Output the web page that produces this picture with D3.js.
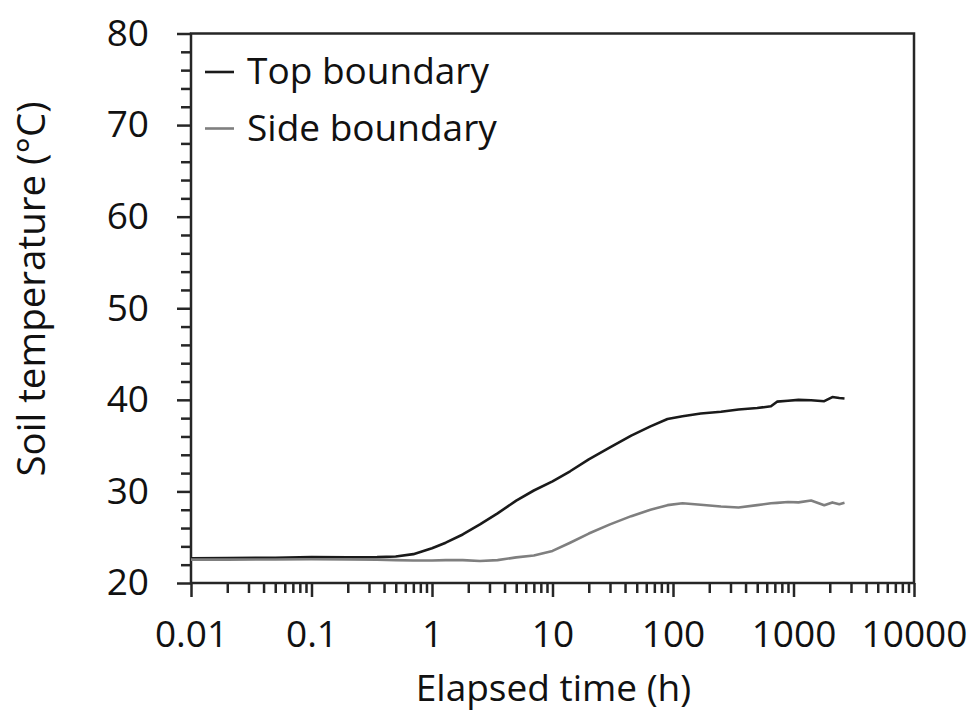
<!doctype html>
<html lang="en">
<head>
<meta charset="UTF-8">
<title>Soil temperature</title>
<style>
  body { margin: 0; background: #fff; }
  svg text { font-family: "Open Sans", sans-serif; fill: #111; }
</style>
</head>
<body>
<svg width="973" height="719"></svg>
<script src="https://cdn.jsdelivr.net/npm/d3@7"></script>
<script>
// elapsed time (h) and the two temperature records (°C)
var timeH = [0.01, 0.02, 0.05, 0.1, 0.2, 0.35, 0.5, 0.7, 1, 1.3, 1.8, 2.5, 3.5, 5, 7, 10, 14, 20, 30, 45, 65, 90, 120, 170, 250, 350, 500, 650, 730, 900, 1100, 1400, 1800, 2100, 2400, 2650];
var topTemp = [22.7, 22.72, 22.76, 22.82, 22.8, 22.82, 22.9, 23.15, 23.8, 24.4, 25.3, 26.4, 27.6, 29.0, 30.1, 31.1, 32.2, 33.5, 34.8, 36.1, 37.1, 37.9, 38.2, 38.5, 38.7, 38.95, 39.1, 39.3, 39.8, 39.9, 40.0, 39.95, 39.85, 40.3, 40.2, 40.15];
var sideTemp = [22.55, 22.55, 22.57, 22.6, 22.58, 22.55, 22.5, 22.45, 22.45, 22.5, 22.5, 22.4, 22.5, 22.8, 23.0, 23.5, 24.4, 25.4, 26.4, 27.3, 28.0, 28.5, 28.7, 28.55, 28.35, 28.25, 28.5, 28.7, 28.75, 28.85, 28.8, 29.0, 28.5, 28.8, 28.6, 28.75];
var seriesNames = ['Top boundary', 'Side boundary'];
var xMajor = [0.01, 0.1, 1, 10, 100, 1000, 10000];
var xLabels = ['0.01', '0.1', '1', '10', '100', '1000', '10000'];
var yMajor = [20, 30, 40, 50, 60, 70, 80];

var svg = d3.select('svg');
var plotL = 191, plotT = 33.5, plotR = 914, plotB = 583;
var axisColor = '#262626';

var x = d3.scaleLog().domain([0.01, 10000]).range([plotL, plotR]);
var y = d3.scaleLinear().domain([20, 80]).range([plotB, plotT]);

// minor x ticks 2..9 per decade
var xMinor = [];
for (var e = -2; e < 4; e++) {
    for (var k = 2; k <= 9; k++) xMinor.push(k * Math.pow(10, e));
}
var yMinor = d3.range(20, 81, 2).filter(function(v) { return v % 10 !== 0; });

function styleAxis(g) {
    g.select('.domain').remove();
    g.selectAll('line').attr('stroke', axisColor).attr('stroke-width', 2.5);
    g.selectAll('text').style('font-size', '37px').attr('fill', '#111');
}

// x axis
svg.append('g')
    .attr('transform', 'translate(0,' + plotB + ')')
    .call(d3.axisBottom(x).tickValues(xMinor).tickSize(10).tickFormat(''))
    .call(styleAxis);
svg.append('g')
    .attr('transform', 'translate(0,' + plotB + ')')
    .call(d3.axisBottom(x).tickValues(xMajor).tickSize(14).tickPadding(24)
        .tickFormat(function(d, i) { return xLabels[i]; }))
    .call(styleAxis);

// y axis
svg.append('g')
    .attr('transform', 'translate(' + plotL + ',0)')
    .call(d3.axisLeft(y).tickValues(yMinor).tickSize(10).tickFormat(''))
    .call(styleAxis);
svg.append('g')
    .attr('transform', 'translate(' + plotL + ',0)')
    .call(d3.axisLeft(y).tickValues(yMajor).tickSize(14).tickPadding(28))
    .call(styleAxis);

// frame
svg.append('rect')
    .attr('x', plotL).attr('y', plotT)
    .attr('width', plotR - plotL).attr('height', plotB - plotT)
    .attr('fill', 'none')
    .attr('stroke', axisColor)
    .attr('stroke-width', 2.5);

// data lines
var line = d3.line()
    .x(function(d, i) { return x(timeH[i]); })
    .y(function(d) { return y(d); });

var colors = ['#1a1a1a', '#7f7f7f'];
[topTemp, sideTemp].forEach(function(s, i) {
    svg.append('path')
        .attr('d', line(s))
        .attr('fill', 'none')
        .attr('stroke', colors[i])
        .attr('stroke-width', 2.6)
        .attr('stroke-linejoin', 'round');
});

// legend
var legend = svg.append('g');
seriesNames.forEach(function(name, i) {
    var ly = 72 + i * 56.5;
    legend.append('line')
        .attr('x1', 205).attr('x2', 234)
        .attr('y1', ly).attr('y2', ly)
        .attr('stroke', colors[i])
        .attr('stroke-width', 2.6);
    legend.append('text')
        .attr('x', 247).attr('y', ly + 12)
        .style('font-size', '37px')
        .text(name);
});

// axis titles
svg.append('text')
    .attr('x', (plotL + plotR) / 2 + 1)
    .attr('y', 701)
    .attr('text-anchor', 'middle')
    .style('font-size', '37px')
    .text('Elapsed time (h)');
svg.append('text')
    .attr('transform', 'translate(45,289) rotate(-90)')
    .attr('text-anchor', 'middle')
    .style('font-size', '38.5px')
    .text('Soil temperature (°C)');
</script>
</body>
</html>
